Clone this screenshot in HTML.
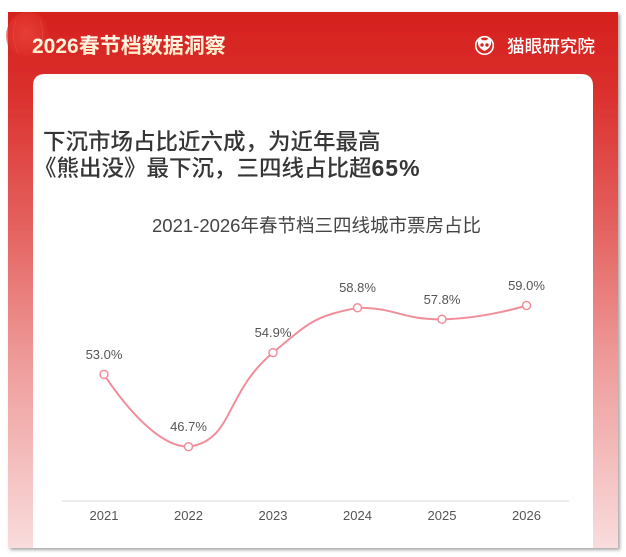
<!DOCTYPE html>
<html><head><meta charset="utf-8">
<style>
html,body{margin:0;padding:0;background:#fff;width:626px;height:557px;overflow:hidden}
svg{display:block}
</style></head>
<body>
<svg width="626" height="557" viewBox="0 0 626 557" xmlns="http://www.w3.org/2000/svg">
<defs>
<linearGradient id="bg" x1="0" y1="12" x2="0" y2="548" gradientUnits="userSpaceOnUse">
<stop offset="0" stop-color="#d6201d"/>
<stop offset="0.15" stop-color="#db302d"/>
<stop offset="0.4" stop-color="#e4625f"/>
<stop offset="0.65" stop-color="#ee9b9a"/>
<stop offset="1" stop-color="#f9dcdc"/>
</linearGradient>
<radialGradient id="lan" cx="0.45" cy="0.45" r="0.6">
<stop offset="0" stop-color="#ec4a40"/>
<stop offset="0.7" stop-color="#e0322c"/>
<stop offset="1" stop-color="#d9231f" stop-opacity="0"/>
</radialGradient>
<linearGradient id="tt" x1="0" y1="0" x2="0" y2="1">
<stop offset="0" stop-color="#fffaf0"/>
<stop offset="1" stop-color="#ffe9bf"/>
</linearGradient>
<filter id="sh" x="-5%" y="-5%" width="110%" height="110%">
<feDropShadow dx="2" dy="2" stdDeviation="1.5" flood-color="#000" flood-opacity="0.35"/>
</filter>
</defs>

<!-- red panel -->
<rect x="8" y="12" width="610" height="536" fill="url(#bg)" filter="url(#sh)"/>
<!-- lantern -->
<ellipse cx="28" cy="36" rx="22" ry="24" fill="url(#lan)" opacity="0.7"/>
<path d="M16 20 Q10 36 18 54 M40 20 Q46 36 38 54" stroke="#f57d6c" stroke-width="0.5" fill="none" opacity="0.4"/>

<!-- header title -->
<text x="32" y="53" font-family="'Liberation Sans','Noto Sans CJK SC',sans-serif" font-size="21" font-weight="bold" fill="url(#tt)">2026春节档数据洞察</text>

<!-- logo -->
<circle cx="484.5" cy="45.5" r="8.8" fill="none" stroke="#fff" stroke-width="1.6"/>
<path d="M478 41 L479.5 37.5 L482.5 40.3 L486.5 40.3 L489.5 37.5 L491 41 Q492 47.5 484.5 51 Q477 47.5 478 41 Z" fill="#fff"/>
<circle cx="482" cy="45" r="1.7" fill="#d9231f"/>
<circle cx="487" cy="45" r="1.7" fill="#d9231f"/>
<text x="507" y="52.5" font-family="'Liberation Sans','Noto Sans CJK SC',sans-serif" font-size="17.6" font-weight="500" fill="#fff">猫眼研究院</text>

<!-- white card -->
<path d="M33 548 L33 86 Q33 74 45 74 L581 74 Q593 74 593 86 L593 548 Z" fill="#fff"/>

<!-- headline -->
<text x="43" y="149.5" font-family="'Liberation Sans','Noto Sans CJK SC',sans-serif" font-size="22.5" font-weight="500" fill="#363636">下沉市场占比近六成，为近年最高</text>
<text x="34" y="176" font-family="'Liberation Sans','Noto Sans CJK SC',sans-serif" font-size="22.5" font-weight="500" fill="#363636">《熊出没》最下沉，三四线占比超<tspan font-size="23" font-weight="bold" letter-spacing="1">65%</tspan></text>

<!-- chart title -->
<text x="316.5" y="232" text-anchor="middle" font-family="'Liberation Sans','Noto Sans CJK SC',sans-serif" font-size="18.5" fill="#444">2021-2026年春节档三四线城市票房占比</text>

<!-- axis -->
<line x1="62" y1="501" x2="569" y2="501" stroke="#d9d9d9" stroke-width="1"/>
<g font-family="'Liberation Sans',sans-serif" font-size="13" fill="#555" text-anchor="middle">
<text x="104" y="520">2021</text>
<text x="188.5" y="520">2022</text>
<text x="273" y="520">2023</text>
<text x="357.5" y="520">2024</text>
<text x="442" y="520">2025</text>
<text x="526.5" y="520">2026</text>
</g>

<!-- series -->
<path d="M104,374.4 C104,374.4 149,446.7 188.5,446.7 C233.5,440.9 224.8,392.2 273,352.6 C309.3,322.7 312.8,316.6 357.5,307.8 C397.3,307.8 399.8,319.3 442,319.3 C484.2,318.7 526.5,305.5 526.5,305.5" fill="none" stroke="#f08f9b" stroke-width="2"/>
<g fill="#fff" stroke="#f08f9b" stroke-width="1.5">
<circle cx="104" cy="374.4" r="4"/>
<circle cx="188.5" cy="446.7" r="4"/>
<circle cx="273" cy="352.6" r="4"/>
<circle cx="357.5" cy="307.8" r="4"/>
<circle cx="442" cy="319.3" r="4"/>
<circle cx="526.5" cy="305.5" r="4"/>
</g>
<g font-family="'Liberation Sans',sans-serif" font-size="13" fill="#555" text-anchor="middle">
<text x="104" y="359">53.0%</text>
<text x="188.5" y="431">46.7%</text>
<text x="273" y="337">54.9%</text>
<text x="357.5" y="292">58.8%</text>
<text x="442" y="304">57.8%</text>
<text x="526.5" y="290">59.0%</text>
</g>
</svg>
</body></html>
